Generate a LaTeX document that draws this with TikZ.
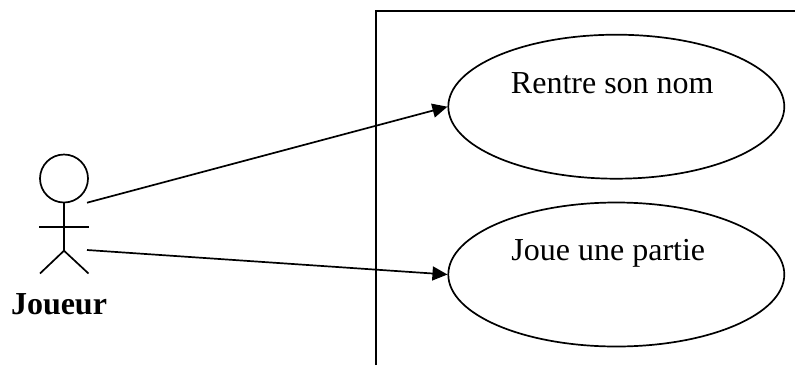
\documentclass[tikz,border=0pt]{standalone}
\usepackage{fontspec}
\setmainfont{Liberation Serif}
\usetikzlibrary{arrows.meta,shapes.geometric}
\begin{document}
\begin{tikzpicture}[x=1pt,y=-1pt,
  ln/.style={draw=black,line width=1.7pt},
  uc/.style={ln,ellipse,minimum width=336pt,minimum height=144pt,inner sep=0pt},
  lab/.style={font=\fontsize{32}{34}\selectfont,inner sep=0pt,anchor=base},
  arr/.style={ln,-{Triangle[length=15pt,width=14pt]}}]
\useasboundingbox (0,0) rectangle (795,365);
\fill[white] (0,0) rectangle (795,365);
\coordinate (bl) at (375.7,365);
\coordinate (tl) at (375.7,10.7);
\coordinate (tr) at (795,10.7);
\draw[ln] (bl) -- (tl) -- (tr);
\node[uc] (u1) at (616.3,106.7) {};
\node[uc] (u2) at (616.3,274.5) {};
\node[lab] (t1) at (612.3,93) {Rentre son nom};
\node[lab] (t2) at (608.3,260) {Joue une partie};
\node[ln,circle,minimum size=48pt,inner sep=0pt] (head) at (64,178.5) {};
\coordinate (hip) at (64,250.7);
\coordinate (al) at (39,226.7);
\coordinate (ar) at (89,226.7);
\coordinate (fl) at (40,273.5);
\coordinate (fr) at (88.5,273.5);
\draw[ln] (head.south) -- (hip);
\draw[ln] (al) -- (ar);
\draw[ln] (fl) -- (hip) -- (fr);
\node[font=\fontsize{32}{34}\selectfont\bfseries,inner sep=0pt,anchor=base] (actor) at (59,314) {Joueur};
\coordinate (s1) at (87,202.7);
\coordinate (s2) at (87,250);
\draw[arr] (s1) -- (u1.west);
\draw[arr] (s2) -- (u2.west);
\end{tikzpicture}
\end{document}
